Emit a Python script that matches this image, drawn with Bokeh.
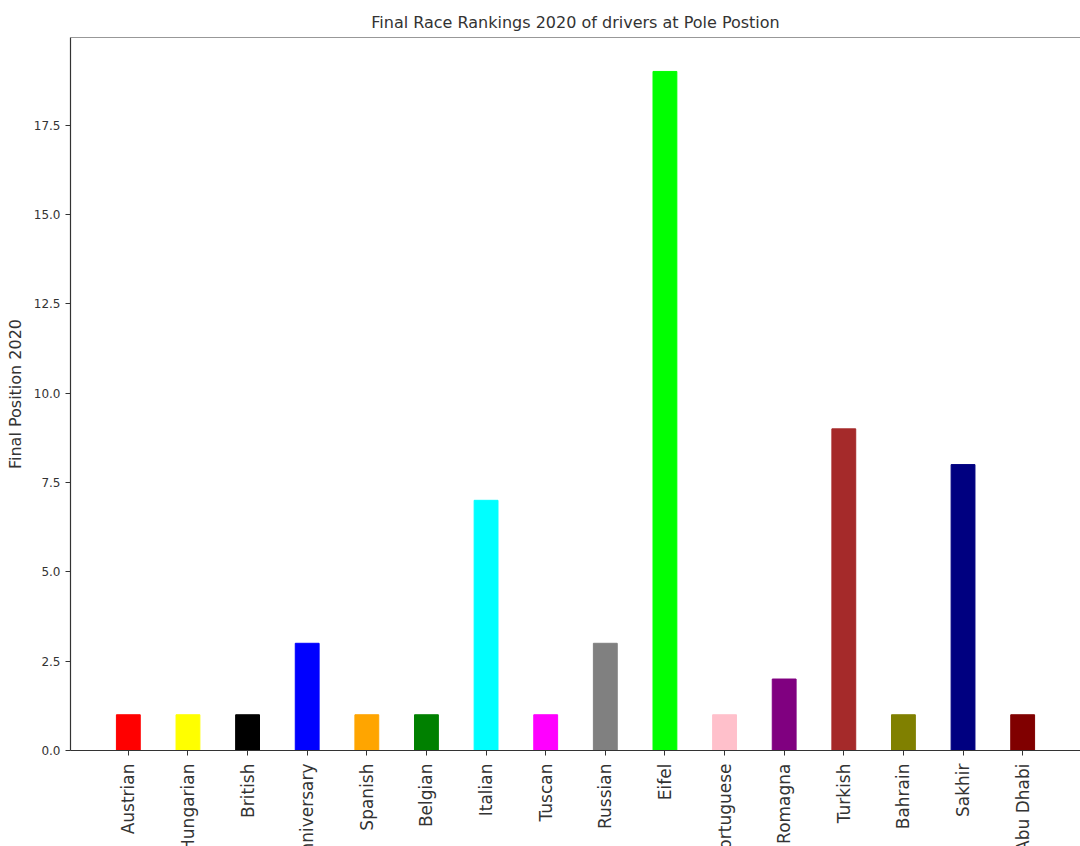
from bokeh.plotting import figure
from bokeh.layouts import column
from bokeh.models import (Range1d, FixedTicker, NumeralTickFormatter, ColumnDataSource,
                          Span, SingleIntervalTicker)
from bokeh.core.properties import value
from bokeh.embed import file_html
from bokeh.resources import INLINE
import math

# ---- data ----
races = ["Austrian", "Hungarian", "British", "70th Anniversary", "Spanish", "Belgian",
         "Italian", "Tuscan", "Russian", "Eifel", "Portuguese", "Emilia Romagna",
         "Turkish", "Bahrain", "Sakhir", "Abu Dhabi"]
final_position = [1, 1, 1, 3, 1, 1, 7, 1, 3, 19, 1, 2, 9, 1, 8, 1]
bar_colors = ["red", "yellow", "black", "blue", "orange", "green", "cyan", "magenta",
              "gray", "lime", "pink", "purple", "brown", "olive", "navy", "maroon"]

idx = list(range(len(races)))
n = len(races)
y_end = max(final_position) * 1.05

src = ColumnDataSource(dict(x=idx, top=final_position, color=bar_colors, race=races))

FONT = "DejaVu Sans"
AX = "#333333"

x_range = Range1d(-0.97, n - 1 + 0.97)

p = figure(width=1080, height=760, output_backend="svg", toolbar_location=None,
           x_range=x_range, y_range=Range1d(0, y_end),
           min_border_left=70, min_border_right=0, min_border_top=37, min_border_bottom=10,
           title="Final Race Rankings 2020 of drivers at Pole Postion")

p.vbar(x="x", top="top", width=0.4, color="color", source=src)

p.title.align = "center"
p.title.text_font = FONT
p.title.text_font_size = "16px"
p.title.text_font_style = "normal"
p.title.text_color = AX
p.title.standoff = 11

p.outline_line_color = None
p.xgrid.visible = False
p.ygrid.visible = False
p.background_fill_color = "white"
p.border_fill_color = "white"

# top spine
p.add_layout(Span(location=y_end, dimension="width", line_color=AX, line_width=1.2))

# y axis
ya = p.yaxis[0]
ya.ticker = SingleIntervalTicker(interval=2.5)
ya.formatter = NumeralTickFormatter(format="0.0")
ya.axis_label = "Final Position 2020"
ya.axis_label_text_font = FONT
ya.axis_label_text_font_size = "16px"
ya.axis_label_text_font_style = "normal"
ya.axis_label_text_color = AX
ya.axis_label_standoff = 6
ya.major_label_text_font = FONT
ya.major_label_text_font_size = "12px"
ya.major_label_text_color = AX
ya.major_label_standoff = 5
ya.major_tick_out = 5
ya.major_tick_in = 0
ya.minor_tick_out = 0
ya.minor_tick_in = 0
ya.axis_line_color = AX
ya.major_tick_line_color = AX
ya.axis_line_width = 1.2

# x axis (ticks only; race names drawn rotated in the strip below)
xa = p.xaxis[0]
xa.ticker = FixedTicker(ticks=idx)
xa.major_label_overrides = {i: "" for i in idx}
xa.major_label_standoff = 0
xa.major_tick_out = 5
xa.major_tick_in = 0
xa.minor_tick_out = 0
xa.axis_line_color = AX
xa.major_tick_line_color = AX
xa.axis_line_width = 1.2

# strip under the chart holding the rotated tick labels (cut at the bottom edge)
q = figure(width=1080, height=86, output_backend="svg", toolbar_location=None,
           x_range=x_range, y_range=Range1d(0, 86),
           min_border_left=70, min_border_right=0, min_border_top=0, min_border_bottom=0)
q.axis.visible = False
q.grid.visible = False
q.outline_line_color = None
q.background_fill_color = "white"
q.border_fill_color = "white"
q.text(x="x", y=83, text="race", source=src, angle=math.pi / 2,
       text_align="right", text_baseline="middle",
       text_font=value(FONT), text_font_size="17px", text_color=AX)

layout = column(p, q, spacing=0)
open("out.html", "w").write(file_html(layout, INLINE))
